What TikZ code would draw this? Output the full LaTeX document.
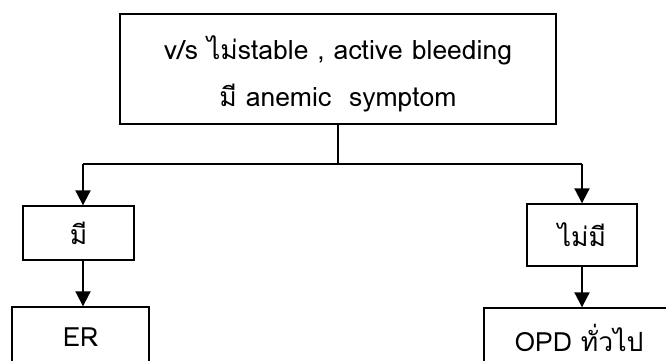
\documentclass[tikz,border=0pt]{standalone}
\usepackage{fontspec}
\setmainfont[Script=Thai]{Loma}
\usetikzlibrary{arrows.meta,positioning}
\tikzset{
box/.style = {draw, line width=1.4pt, rectangle, align=center, inner sep=0pt},
flow/.style = {line width=2pt, -{Triangle[length=15pt,width=15pt]}},
link/.style = {line width=1.4pt}
}

\begin{document}
\begin{tikzpicture}[x=1pt, y=-1pt,
  every node/.style = {font=\fontsize{26.5}{47}\selectfont}]
  \useasboundingbox (0,0) rectangle (666,360);
  \clip (0,0) rectangle (666,360);
  % top question
  \node[box, minimum width=436pt, minimum height=110pt] (top) at (338,69) {};
  \node[align=center] (question) at (338,74)
    {v/s ไม่stable , active bleeding\\ มี anemic\ \ symptom};
  % answers
  \node[box, minimum width=111pt, minimum height=54pt] (yes) at (78.5,233) {มี};
  \node[box, minimum width=110pt, minimum height=62pt] (no) at (582,235) {ไม่มี};
  % where to go
  \node[box, minimum width=137pt, minimum height=60pt] (er) at (80.5,337) {ER};
  \node[box, minimum width=190pt, minimum height=60pt] (opd) at (579,338) {OPD ทั่วไป};
  \coordinate (split) at (338,164);
  \coordinate (left) at (83,164);
  \coordinate (right) at (582,164);
  \draw[link] (top.south) -- (split);
  \draw[link] (left) -- (right);
  \draw[flow] (left) -- (left |- yes.north);
  \draw[flow] (right) -- (no.north);
  \draw[flow] (left |- yes.south) -- (left |- er.north);
  \draw[flow] (no.south) -- (no.south |- opd.north);
\end{tikzpicture}
\end{document}
